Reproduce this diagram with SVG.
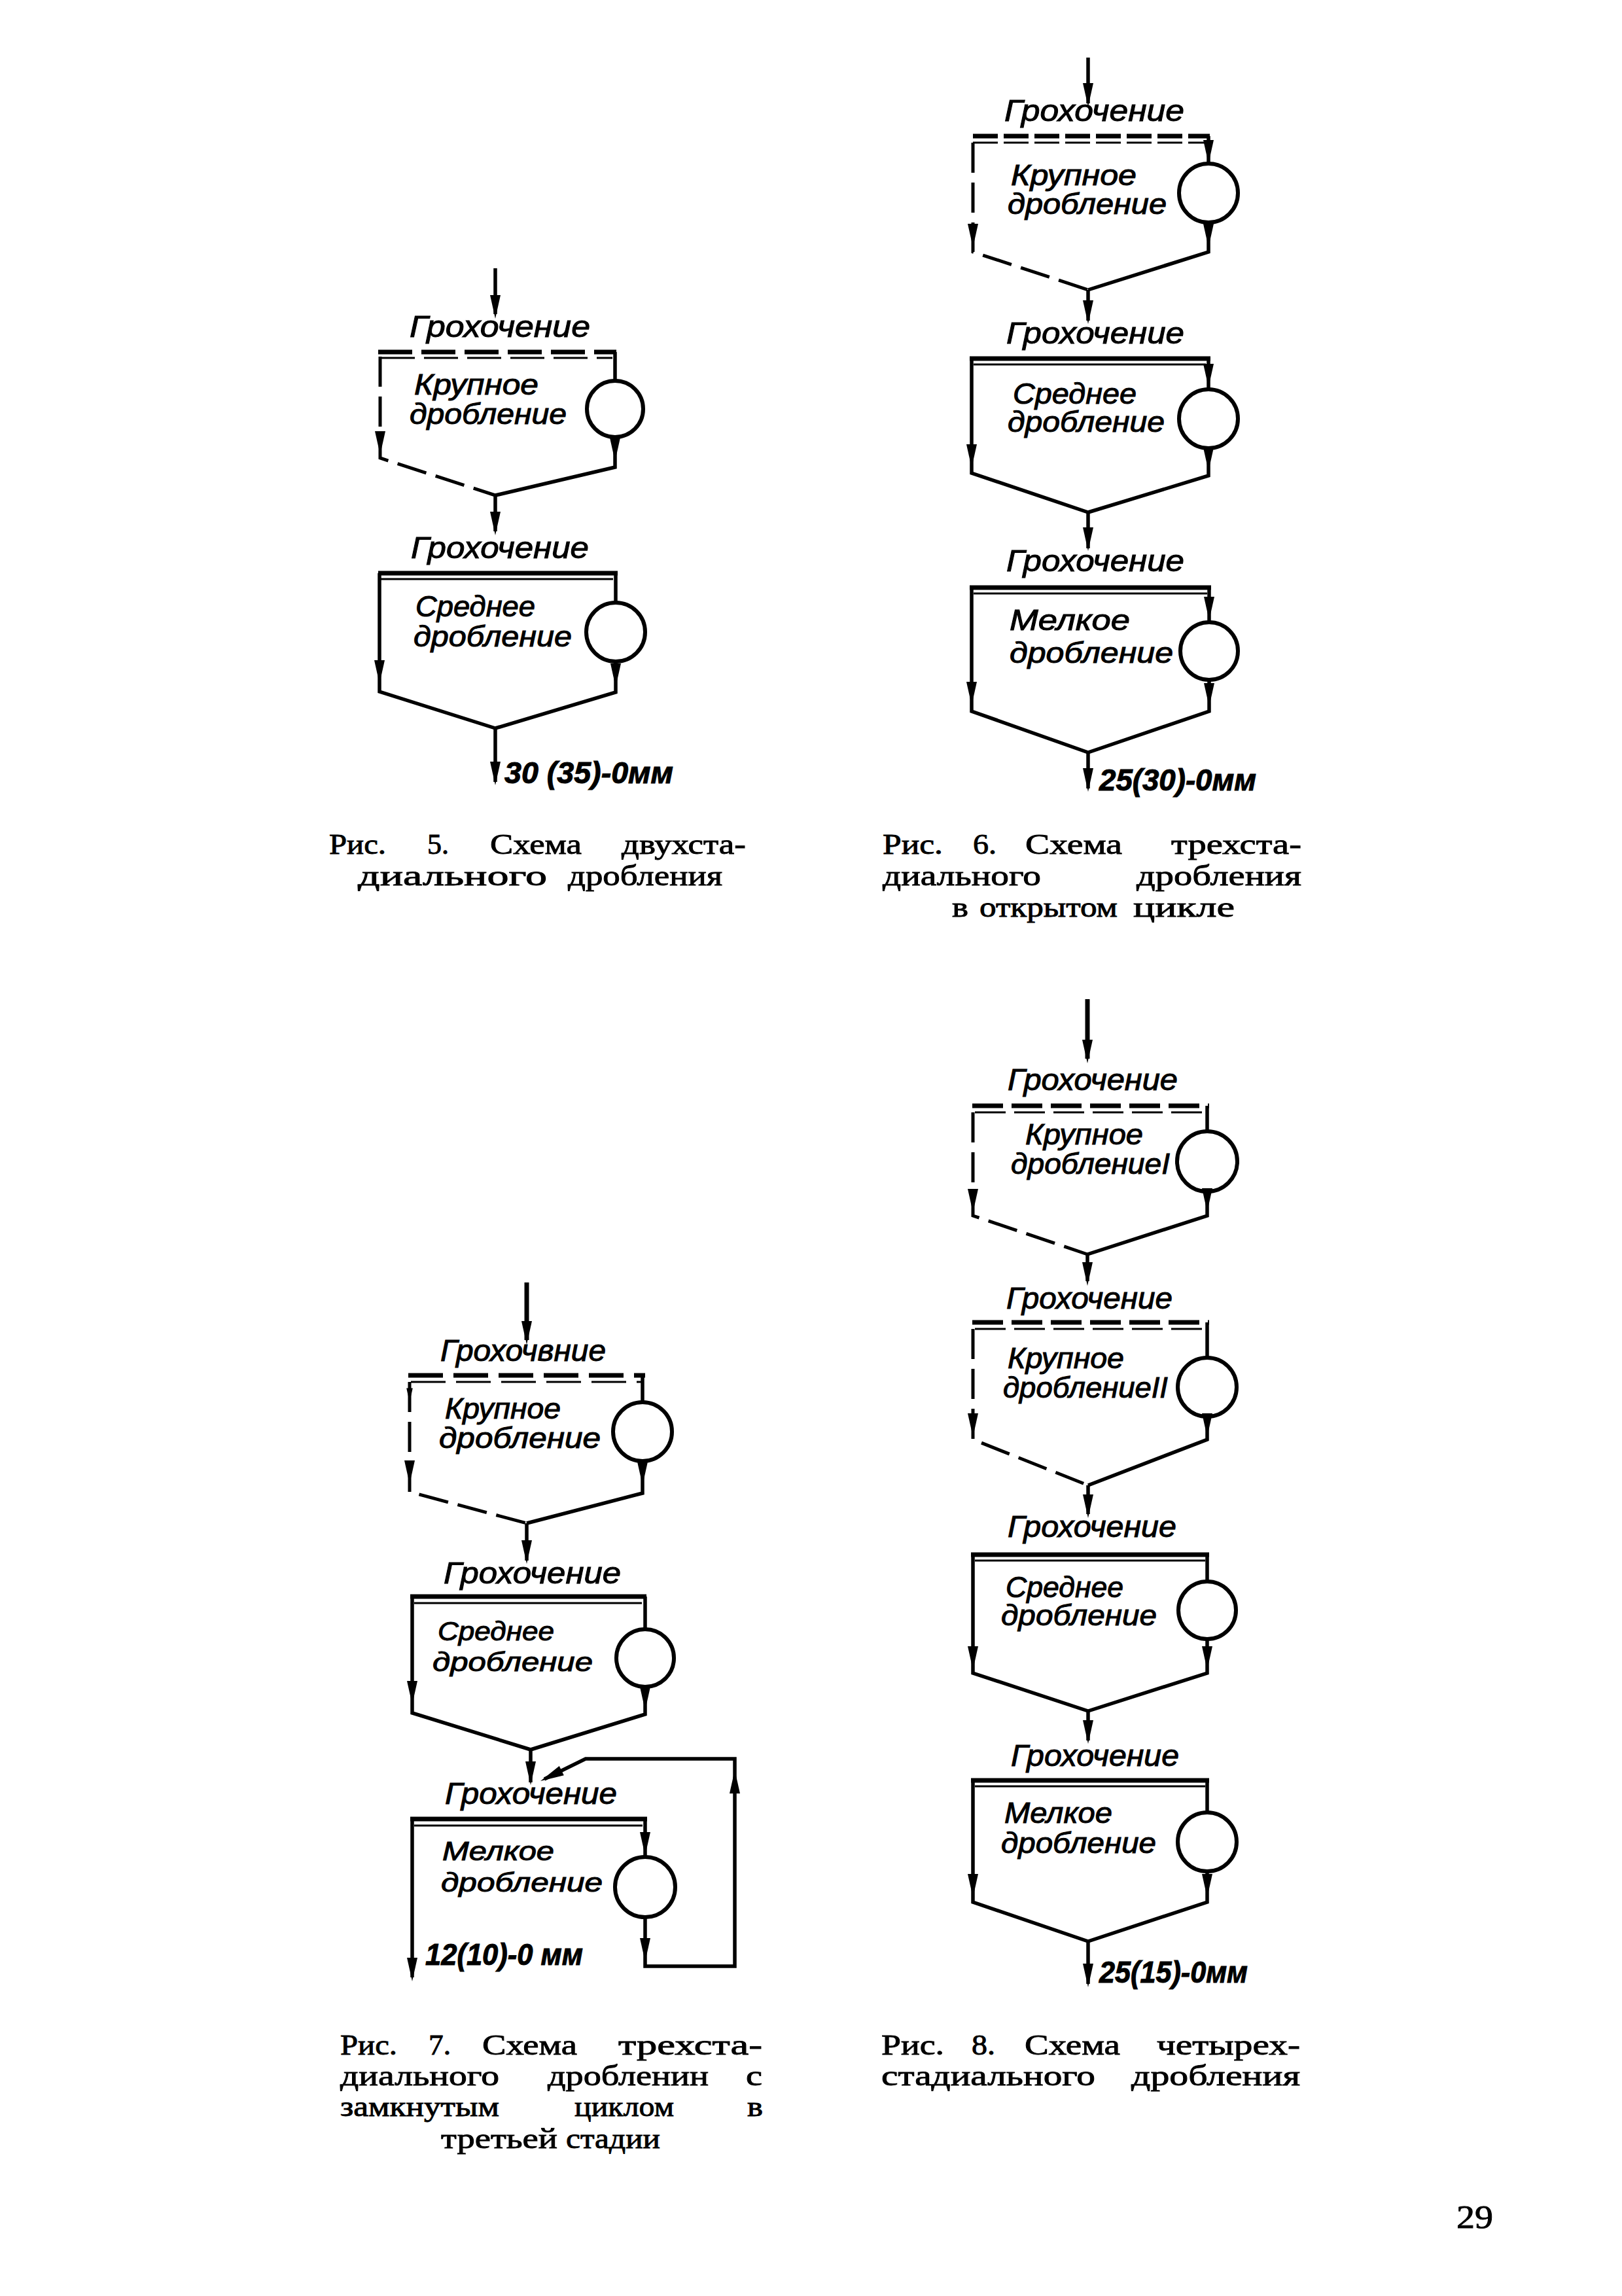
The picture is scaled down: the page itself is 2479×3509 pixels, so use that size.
<svg xmlns="http://www.w3.org/2000/svg" width="2479" height="3509" viewBox="0 0 2479 3509">
<defs>
<style>
.ln{fill:none;stroke:#000;stroke-width:5.5;stroke-linejoin:miter}
.lt{fill:none;stroke:#000;stroke-width:7}
.dl{fill:none;stroke:#000;stroke-width:5;stroke-dasharray:46 15}
.thk{fill:none;stroke:#000;stroke-width:7}
.thn{fill:none;stroke:#000;stroke-width:3}
.d5{stroke-dasharray:52 14}
.d6{stroke-dasharray:38 9}
.d7{stroke-dasharray:53 16}
.d8{stroke-dasharray:47 13}
.crc{fill:#fff;stroke:#000;stroke-width:6}
.t{font-family:"Liberation Sans","DejaVu Sans",sans-serif;font-style:italic;font-size:44px;fill:#000;stroke:#000;stroke-width:1}
.sm{font-size:40px}
.s{font-size:46px}
.o{font-weight:bold;font-size:46px}
.cap{font-family:"Liberation Serif","DejaVu Serif",serif;font-size:44px;fill:#000;stroke:#000;stroke-width:0.9}
</style>
<path id="ah" d="M0,0 L-8,-36 L8,-36 Z"/>
</defs>
<rect width="2479" height="3509" fill="#fff"/>

<!-- ================= FIG 5 ================= -->
<g id="fig5-coarse">
<text class="t s" x="626" y="515" textLength="276" lengthAdjust="spacingAndGlyphs">Грохочение</text>
<line class="thk d5" x1="578" y1="538" x2="942" y2="538"/>
<line class="thn d5" x1="582" y1="547" x2="936" y2="547"/>
<text class="t" x="633" y="603" textLength="190" lengthAdjust="spacingAndGlyphs">Крупное</text>
<text class="t" x="626" y="648" textLength="240" lengthAdjust="spacingAndGlyphs">дробление</text>
<circle class="crc" cx="940" cy="625" r="43"/>
</g>
<g id="fig5-medium">
<text class="t s" x="628" y="853" textLength="272" lengthAdjust="spacingAndGlyphs">Грохочение</text>
<line class="thk" x1="578" y1="876" x2="944" y2="876"/>
<line class="thn" x1="582" y1="885" x2="937" y2="885"/>
<text class="t" x="635" y="942" textLength="183" lengthAdjust="spacingAndGlyphs">Среднее</text>
<text class="t" x="632" y="988" textLength="242" lengthAdjust="spacingAndGlyphs">дробление</text>
<circle class="crc" cx="941" cy="966" r="45"/>
</g>
<g id="fig5-output">
<text class="t o" x="771" y="1197" textLength="258" lengthAdjust="spacingAndGlyphs">30 (35)-0мм</text>
</g>
<g id="fig5-caption">
<text class="cap" x="503" y="1305" textLength="87" lengthAdjust="spacingAndGlyphs">Рис.</text>
<text class="cap" x="653" y="1305" textLength="33" lengthAdjust="spacingAndGlyphs">5.</text>
<text class="cap" x="749" y="1305" textLength="140" lengthAdjust="spacingAndGlyphs">Схема</text>
<text class="cap" x="950" y="1305" textLength="190" lengthAdjust="spacingAndGlyphs">двухста-</text>
<text class="cap" x="547" y="1353" textLength="289" lengthAdjust="spacingAndGlyphs">диального</text>
<text class="cap" x="868" y="1353" textLength="236" lengthAdjust="spacingAndGlyphs">дробления</text>
</g>

<!-- ================= FIG 6 ================= -->
<g id="fig6-coarse">
<text class="t s" x="1535" y="185" textLength="275" lengthAdjust="spacingAndGlyphs">Грохочение</text>
<line class="thk d6" x1="1487" y1="208" x2="1849" y2="208"/>
<line class="thn d6" x1="1487" y1="218" x2="1843" y2="218"/>
<text class="t" x="1545" y="283" textLength="192" lengthAdjust="spacingAndGlyphs">Крупное</text>
<text class="t" x="1540" y="327" textLength="243" lengthAdjust="spacingAndGlyphs">дробление</text>
<circle class="crc" cx="1847" cy="295" r="45"/>
</g>
<g id="fig6-medium">
<text class="t s" x="1538" y="525" textLength="272" lengthAdjust="spacingAndGlyphs">Грохочение</text>
<line class="thk" x1="1482" y1="548" x2="1850" y2="548"/>
<line class="thn" x1="1488" y1="557" x2="1843" y2="557"/>
<text class="t" x="1548" y="617" textLength="189" lengthAdjust="spacingAndGlyphs">Среднее</text>
<text class="t" x="1540" y="660" textLength="240" lengthAdjust="spacingAndGlyphs">дробление</text>
<circle class="crc" cx="1847" cy="640" r="45"/>
</g>
<g id="fig6-fine">
<text class="t s" x="1538" y="873" textLength="272" lengthAdjust="spacingAndGlyphs">Грохочение</text>
<line class="thk" x1="1482" y1="898" x2="1851" y2="898"/>
<line class="thn" x1="1488" y1="907" x2="1845" y2="907"/>
<text class="t" x="1543" y="963" textLength="184" lengthAdjust="spacingAndGlyphs">Мелкое</text>
<text class="t" x="1543" y="1013" textLength="250" lengthAdjust="spacingAndGlyphs">дробление</text>
<circle class="crc" cx="1848" cy="995" r="44"/>
</g>
<g id="fig6-output">
<text class="t o" x="1680" y="1208" textLength="240" lengthAdjust="spacingAndGlyphs">25(30)-0мм</text>
</g>
<g id="fig6-caption">
<text class="cap" x="1349" y="1305" textLength="92" lengthAdjust="spacingAndGlyphs">Рис.</text>
<text class="cap" x="1487" y="1305" textLength="36" lengthAdjust="spacingAndGlyphs">6.</text>
<text class="cap" x="1567" y="1305" textLength="148" lengthAdjust="spacingAndGlyphs">Схема</text>
<text class="cap" x="1790" y="1305" textLength="199" lengthAdjust="spacingAndGlyphs">трехста-</text>
<text class="cap" x="1349" y="1353" textLength="242" lengthAdjust="spacingAndGlyphs">диального</text>
<text class="cap" x="1737" y="1353" textLength="252" lengthAdjust="spacingAndGlyphs">дробления</text>
<text class="cap" x="1455" y="1401" textLength="25" lengthAdjust="spacingAndGlyphs">в</text>
<text class="cap" x="1497" y="1401" textLength="211" lengthAdjust="spacingAndGlyphs">открытом</text>
<text class="cap" x="1732" y="1401" textLength="155" lengthAdjust="spacingAndGlyphs">цикле</text>
</g>

<!-- ================= FIG 7 ================= -->
<g id="fig7-coarse">
<text class="t s" x="673" y="2080" textLength="253" lengthAdjust="spacingAndGlyphs">Грохочвние</text>
<line class="thk d7" x1="624" y1="2102" x2="986" y2="2102"/>
<line class="thn d7" x1="628" y1="2112" x2="980" y2="2112"/>
<text class="t" x="680" y="2168" textLength="177" lengthAdjust="spacingAndGlyphs">Крупное</text>
<text class="t" x="671" y="2213" textLength="247" lengthAdjust="spacingAndGlyphs">дробление</text>
<circle class="crc" cx="982" cy="2188" r="45"/>
</g>
<g id="fig7-medium">
<text class="t s" x="678" y="2420" textLength="271" lengthAdjust="spacingAndGlyphs">Грохочение</text>
<line class="thk" x1="627" y1="2440" x2="988" y2="2440"/>
<line class="thn" x1="633" y1="2450" x2="981" y2="2450"/>
<text class="t sm" x="669" y="2507" textLength="178" lengthAdjust="spacingAndGlyphs">Среднее</text>
<text class="t sm" x="661" y="2554" textLength="245" lengthAdjust="spacingAndGlyphs">дробление</text>
<circle class="crc" cx="986" cy="2534" r="44"/>
</g>
<g id="fig7-fine">
<text class="t s" x="680" y="2757" textLength="263" lengthAdjust="spacingAndGlyphs">Грохочение</text>
<line class="thk" x1="627" y1="2780" x2="989" y2="2780"/>
<line class="thn" x1="633" y1="2790" x2="982" y2="2790"/>
<text class="t sm" x="676" y="2843" textLength="171" lengthAdjust="spacingAndGlyphs">Мелкое</text>
<text class="t sm" x="674" y="2891" textLength="247" lengthAdjust="spacingAndGlyphs">дробление</text>
<circle class="crc" cx="986" cy="2884" r="46"/>
</g>
<g id="fig7-output">
<text class="t o" x="650" y="3003" textLength="241" lengthAdjust="spacingAndGlyphs">12(10)-0 мм</text>
</g>
<g id="fig7-caption">
<text class="cap" x="520" y="3140" textLength="87" lengthAdjust="spacingAndGlyphs">Рис.</text>
<text class="cap" x="655" y="3140" textLength="34" lengthAdjust="spacingAndGlyphs">7.</text>
<text class="cap" x="737" y="3140" textLength="145" lengthAdjust="spacingAndGlyphs">Схема</text>
<text class="cap" x="945" y="3140" textLength="220" lengthAdjust="spacingAndGlyphs">трехста-</text>
<text class="cap" x="520" y="3187" textLength="243" lengthAdjust="spacingAndGlyphs">диального</text>
<text class="cap" x="837" y="3187" textLength="246" lengthAdjust="spacingAndGlyphs">дробленин</text>
<text class="cap" x="1140" y="3187" textLength="25" lengthAdjust="spacingAndGlyphs">с</text>
<text class="cap" x="520" y="3234" textLength="243" lengthAdjust="spacingAndGlyphs">замкнутым</text>
<text class="cap" x="878" y="3234" textLength="152" lengthAdjust="spacingAndGlyphs">циклом</text>
<text class="cap" x="1142" y="3234" textLength="24" lengthAdjust="spacingAndGlyphs">в</text>
<text class="cap" x="674" y="3283" textLength="178" lengthAdjust="spacingAndGlyphs">третьей</text>
<text class="cap" x="865" y="3283" textLength="144" lengthAdjust="spacingAndGlyphs">стадии</text>
</g>

<!-- ================= FIG 8 ================= -->
<g id="fig8-coarse1">
<text class="t s" x="1540" y="1666" textLength="260" lengthAdjust="spacingAndGlyphs">Грохочение</text>
<line class="thk d8" x1="1486" y1="1690" x2="1848" y2="1690"/>
<line class="thn d8" x1="1490" y1="1700" x2="1842" y2="1700"/>
<text class="t" x="1567" y="1749" textLength="180" lengthAdjust="spacingAndGlyphs">Крупное</text>
<text class="t" x="1545" y="1794" textLength="243" lengthAdjust="spacingAndGlyphs">дроблениеI</text>
<circle class="crc" cx="1845" cy="1775" r="46"/>
</g>
<g id="fig8-coarse2">
<text class="t s" x="1538" y="2000" textLength="254" lengthAdjust="spacingAndGlyphs">Грохочение</text>
<line class="thk d8" x1="1486" y1="2021" x2="1848" y2="2021"/>
<line class="thn d8" x1="1490" y1="2031" x2="1842" y2="2031"/>
<text class="t" x="1540" y="2091" textLength="178" lengthAdjust="spacingAndGlyphs">Крупное</text>
<text class="t" x="1533" y="2136" textLength="252" lengthAdjust="spacingAndGlyphs">дроблениеII</text>
<circle class="crc" cx="1845" cy="2120" r="45"/>
</g>
<g id="fig8-medium">
<text class="t s" x="1540" y="2349" textLength="258" lengthAdjust="spacingAndGlyphs">Грохочение</text>
<line class="thk" x1="1484" y1="2376" x2="1848" y2="2376"/>
<line class="thn" x1="1490" y1="2385" x2="1842" y2="2385"/>
<text class="t" x="1537" y="2441" textLength="180" lengthAdjust="spacingAndGlyphs">Среднее</text>
<text class="t" x="1530" y="2484" textLength="238" lengthAdjust="spacingAndGlyphs">дробление</text>
<circle class="crc" cx="1845" cy="2461" r="44"/>
</g>
<g id="fig8-fine">
<text class="t s" x="1545" y="2699" textLength="257" lengthAdjust="spacingAndGlyphs">Грохочение</text>
<line class="thk" x1="1484" y1="2721" x2="1848" y2="2721"/>
<line class="thn" x1="1490" y1="2730" x2="1842" y2="2730"/>
<text class="t" x="1535" y="2786" textLength="165" lengthAdjust="spacingAndGlyphs">Мелкое</text>
<text class="t" x="1530" y="2832" textLength="237" lengthAdjust="spacingAndGlyphs">дробление</text>
<circle class="crc" cx="1845" cy="2815" r="45"/>
</g>
<g id="fig8-output">
<text class="t o" x="1680" y="3030" textLength="227" lengthAdjust="spacingAndGlyphs">25(15)-0мм</text>
</g>
<g id="fig8-caption">
<text class="cap" x="1347" y="3140" textLength="96" lengthAdjust="spacingAndGlyphs">Рис.</text>
<text class="cap" x="1485" y="3140" textLength="36" lengthAdjust="spacingAndGlyphs">8.</text>
<text class="cap" x="1566" y="3140" textLength="146" lengthAdjust="spacingAndGlyphs">Схема</text>
<text class="cap" x="1768" y="3140" textLength="219" lengthAdjust="spacingAndGlyphs">четырех-</text>
<text class="cap" x="1347" y="3187" textLength="327" lengthAdjust="spacingAndGlyphs">стадиального</text>
<text class="cap" x="1729" y="3187" textLength="258" lengthAdjust="spacingAndGlyphs">дробления</text>
</g>

<g id="page-number">
<text class="cap" x="2226" y="3405" textLength="56" lengthAdjust="spacingAndGlyphs" style="font-size:50px">29</text>
</g>

<!-- ================= CONNECTORS ================= -->
<g id="connectors">
<!-- fig 5 -->
<line class="ln" x1="757" y1="410" x2="757" y2="480"/>
<use href="#ah" x="757" y="487"/>
<polyline class="ln" points="940,538 940,582"/>
<polyline class="ln" points="940,668 940,714 757,757"/>
<use href="#ah" x="940" y="705"/>
<polyline class="dl" points="581,545 581,700 757,757"/>
<use href="#ah" x="581" y="695"/>
<line class="ln" x1="757" y1="757" x2="757" y2="812"/>
<use href="#ah" x="757" y="818"/>
<polyline class="ln" points="941,876 941,921"/>
<polyline class="ln" points="941,1011 941,1058 757,1113"/>
<use href="#ah" x="941" y="1050"/>
<polyline class="ln" points="580,876 580,1057 757,1113"/>
<use href="#ah" x="580" y="1045"/>
<line class="ln" x1="757" y1="1113" x2="757" y2="1195"/>
<use href="#ah" x="757" y="1200"/>

<!-- fig 6 -->
<line class="ln" x1="1663" y1="88" x2="1663" y2="158"/>
<use href="#ah" x="1663" y="163"/>
<polyline class="ln" points="1847,208 1847,250"/>
<use href="#ah" x="1847" y="250"/>
<polyline class="ln" points="1847,340 1847,385 1663,443"/>
<use href="#ah" x="1847" y="378"/>
<polyline class="dl" points="1487,218 1487,385 1663,443"/>
<use href="#ah" x="1487" y="378"/>
<line class="ln" x1="1663" y1="443" x2="1663" y2="490"/>
<use href="#ah" x="1663" y="495"/>
<polyline class="ln" points="1847,548 1847,595"/>
<use href="#ah" x="1847" y="592"/>
<polyline class="ln" points="1847,685 1847,727 1663,783"/>
<use href="#ah" x="1847" y="720"/>
<polyline class="ln" points="1485,548 1485,723 1663,783"/>
<use href="#ah" x="1485" y="715"/>
<line class="ln" x1="1663" y1="783" x2="1663" y2="838"/>
<use href="#ah" x="1663" y="842"/>
<polyline class="ln" points="1848,898 1848,951"/>
<use href="#ah" x="1848" y="948"/>
<polyline class="ln" points="1848,1039 1848,1087 1663,1150"/>
<use href="#ah" x="1848" y="1080"/>
<polyline class="ln" points="1485,898 1485,1087 1663,1150"/>
<use href="#ah" x="1485" y="1078"/>
<line class="ln" x1="1663" y1="1150" x2="1663" y2="1205"/>
<use href="#ah" x="1663" y="1210"/>

<!-- fig 7 -->
<line class="lt" x1="805" y1="1960" x2="805" y2="2048"/>
<use href="#ah" x="805" y="2055"/>
<polyline class="ln" points="982,2102 982,2143"/>
<polyline class="ln" points="982,2233 982,2282 805,2328"/>
<use href="#ah" x="982" y="2270"/>
<polyline class="dl" points="626,2112 626,2280 805,2328"/>
<use href="#ah" transform="translate(626,2143) scale(0.6)"/>
<use href="#ah" x="626" y="2268"/>
<line class="ln" x1="805" y1="2328" x2="805" y2="2385"/>
<use href="#ah" x="805" y="2390"/>
<polyline class="ln" points="986,2440 986,2490"/>
<polyline class="ln" points="986,2578 986,2620 811,2674"/>
<use href="#ah" x="986" y="2614"/>
<polyline class="ln" points="630,2440 630,2618 811,2674"/>
<use href="#ah" x="630" y="2605"/>
<line class="ln" x1="811" y1="2674" x2="811" y2="2724"/>
<use href="#ah" x="811" y="2728"/>
<polyline class="ln" points="986,2780 986,2838"/>
<use href="#ah" x="986" y="2836"/>
<polyline class="ln" points="986,2930 986,3005 1123,3005 1123,2688 895,2688 832,2719"/>
<use href="#ah" x="986" y="2998"/>
<use href="#ah" transform="translate(1123,2705) rotate(180)"/>
<use href="#ah" transform="translate(826,2722) rotate(63.8)"/>
<line class="ln" x1="630" y1="2780" x2="630" y2="3022"/>
<use href="#ah" x="630" y="3028"/>

<!-- fig 8 -->
<line class="lt" x1="1662" y1="1527" x2="1662" y2="1618"/>
<use href="#ah" x="1662" y="1625"/>
<polyline class="ln" points="1845,1690 1845,1729"/>
<polyline class="ln" points="1845,1821 1845,1858 1662,1917"/>
<use href="#ah" x="1845" y="1852"/>
<polyline class="dl" points="1487,1700 1487,1858 1662,1917"/>
<use href="#ah" x="1487" y="1853"/>
<line class="ln" x1="1662" y1="1917" x2="1662" y2="1958"/>
<use href="#ah" x="1662" y="1965"/>
<polyline class="ln" points="1845,2021 1845,2075"/>
<polyline class="ln" points="1845,2165 1845,2200 1663,2270"/>
<use href="#ah" x="1845" y="2196"/>
<polyline class="dl" points="1487,2031 1487,2200 1663,2270"/>
<use href="#ah" x="1487" y="2196"/>
<line class="ln" x1="1663" y1="2270" x2="1663" y2="2314"/>
<use href="#ah" x="1663" y="2320"/>
<polyline class="ln" points="1845,2376 1845,2417"/>
<polyline class="ln" points="1845,2505 1845,2557 1663,2615"/>
<use href="#ah" x="1845" y="2552"/>
<polyline class="ln" points="1487,2376 1487,2557 1663,2615"/>
<use href="#ah" x="1487" y="2552"/>
<line class="ln" x1="1663" y1="2615" x2="1663" y2="2660"/>
<use href="#ah" x="1663" y="2665"/>
<polyline class="ln" points="1845,2721 1845,2770"/>
<polyline class="ln" points="1845,2860 1845,2907 1663,2967"/>
<use href="#ah" x="1845" y="2900"/>
<polyline class="ln" points="1487,2721 1487,2907 1663,2967"/>
<use href="#ah" x="1487" y="2900"/>
<line class="ln" x1="1663" y1="2967" x2="1663" y2="3032"/>
<use href="#ah" x="1663" y="3037"/>
</g>
</svg>
